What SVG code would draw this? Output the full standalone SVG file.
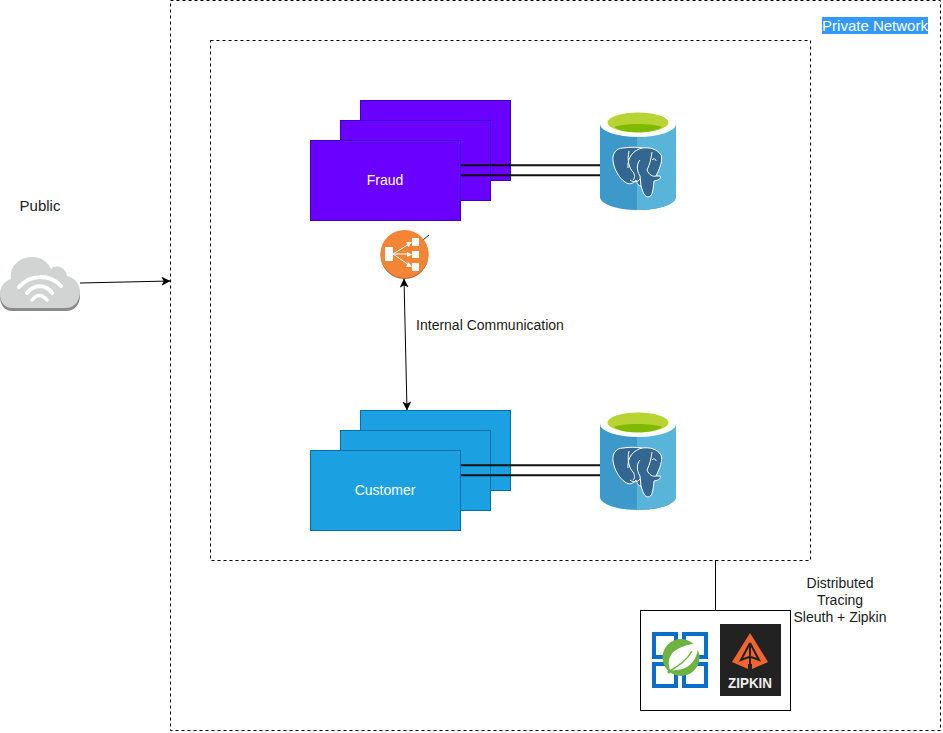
<svg xmlns="http://www.w3.org/2000/svg" width="943" height="733" viewBox="0 0 943 733">
<style>
text{font-family:"Liberation Sans",Arial,sans-serif;font-size:14px;fill:#1a1a1a;text-anchor:middle}
.w{fill:#fff}
.dash{fill:none;stroke:#000;stroke-dasharray:3 3}
.fr{fill:#6a00ff;stroke:#3700cc}
.cu{fill:#1ba1e2;stroke:#006eaf}
.ln{fill:none;stroke:#000;stroke-width:1}
.db{fill:none;stroke:#111;stroke-width:2}
.wifi{fill:none;stroke:#fff;stroke-width:4;stroke-linecap:round}
</style>
<defs>
<marker id="a" viewBox="0 0 10 10" refX="9.500" refY="5" markerWidth="9" markerHeight="9" markerUnits="userSpaceOnUse" orient="auto-start-reverse"><path d="M0 0L10 5L0 10L2.500 5Z" fill="#000"/></marker>
<g id="pg">
<path d="M600 124V197C600 204 617 210 638 210C659 210 676 204 676 197V124Z" fill="#3d99c9"/>
<path d="M637 124V210C659 210 676 204 676 197V124Z" fill="#59b4d9"/>
<ellipse cx="638" cy="124" rx="38" ry="13" fill="#fff"/>
<ellipse cx="638" cy="122.500" rx="30.500" ry="10" fill="#b8d432"/>
<path d="M614 127C622 123 654 123 662 127C654 134 622 134 614 127Z" fill="#7fba00"/>
<path d="M623 148C616 148 612 154 613 161C614 169 619 178 625 182C629 185 633 184 636 180C637 184 639 186 641 186C643 193 645 197 648 197C652 197 653 192 654 181C660 180 661 178 660 176L656 176C660 168 663 160 661 155C657 149 650 147 642 148C636 147 630 147 623 148Z" fill="#336791" stroke="#fff" stroke-width="1"/>
<path d="M629 151C627 160 629 168 633 172C635 175 635 178 633 180M630 180C634 183 638 182 640 179M642 148C634 150 627 157 628 168M652 152C651 159 650 164 647 170C649 175 653 177 656 176M640 160C637 163 636 170 640 176L641 186M652 160C654 158 656 159 656 161" fill="none" stroke="#fff" stroke-width="1"/>
</g>
</defs>
<g id="private-network"><rect class="dash" x="170.500" y="0.500" width="770" height="730"/>
<rect x="822" y="17" width="106" height="17" fill="#3399ff"/><text class="w" x="875" y="31" style="font-size:15px">Private Network</text></g>
<g id="inner-boundary"><rect class="dash" x="210.500" y="40.500" width="600" height="520"/></g>
<g id="connectors">
<path class="ln" d="M80 283L170 281" marker-end="url(#a)"/>
<path class="ln" d="M404 279L407 410" marker-start="url(#a)" marker-end="url(#a)"/>
<path class="ln" d="M715.500 560V610"/>
</g>
<g id="fraud">
<rect class="fr" x="360.500" y="100.500" width="150" height="80"/>
<rect class="fr" x="340.500" y="120.500" width="150" height="80"/>
<rect class="fr" x="310.500" y="140.500" width="150" height="80"/>
<text class="w" x="385" y="185">Fraud</text>
</g>
<g id="customer">
<rect class="cu" x="360.500" y="410.500" width="150" height="80"/>
<rect class="cu" x="340.500" y="430.500" width="150" height="80"/>
<rect class="cu" x="310.500" y="450.500" width="150" height="80"/>
<text class="w" x="385" y="495">Customer</text>
</g>
<g id="db-links">
<path class="db" d="M461 165.300H600M461 175.300H600M461 465.300H600M461 475.300H600"/>
</g>
<g id="fraud-db"><use href="#pg"/></g>
<g id="customer-db"><use href="#pg" y="300"/></g>
<g id="load-balancer">
<path d="M423 240L429 235" stroke="#222" stroke-width="1" fill="none"/>
<circle cx="404.500" cy="255" r="24" fill="#b0622a"/>
<circle cx="404.500" cy="254" r="24" fill="#f58536"/>
<path d="M385 247H393V261H385ZM412 238H419V246H412ZM412 251H419V258H412ZM412 263H419V271H412Z" fill="#fff"/>
<path d="M393 254L409 244M393 254H409M393 254L409 265" stroke="#fff" stroke-width="1" fill="none"/>
<path d="M412 242L406 242L408.500 247ZM412 254.500L407 252V257ZM412 267L406 267L408.500 262Z" fill="#fff"/>
</g>
<g id="public">
<text x="40" y="210.500" style="font-size:15px">Public</text>
<path d="M12 311C4 311 0 304 0 297C0 289 5 284 11 282L60 270L68 279C75 281 80 288 80 296C80 305 74 311 66 311Z" fill="#8a8a8a"/>
<path d="M12 308C4 308 0 301 0 294C0 286 5 281 11 279C9 266 20 257 32 257C42 257 48 262 51 269C56 264 66 267 67 276C75 278 80 284 80 292C80 301 74 308 66 308Z" fill="#d2d3d3"/>
<path class="wifi" d="M19 287C30 274 50 274 61 286"/>
<path class="wifi" d="M27 293C34 284 46 284 52 293"/>
<path class="wifi" style="stroke-width:3.500" d="M32 300C37 294 42 294 47 300"/>
</g>
<g id="internal-label"><text x="490" y="330">Internal Communication</text></g>
<g id="tracing-label"><text x="840" y="588">Distributed</text><text x="840" y="605">Tracing</text><text x="840" y="622">Sleuth + Zipkin</text></g>
<g id="tracing">
<rect x="640.500" y="610.500" width="150" height="100" fill="#fff" stroke="#000"/>
<g fill="#fff" stroke="#0a6fc9" stroke-width="4">
<rect x="654" y="634" width="22" height="23"/><rect x="684" y="634" width="22" height="23"/><rect x="654" y="664" width="22" height="22"/><rect x="684" y="664" width="22" height="22"/>
</g>
<circle cx="681" cy="657.500" r="18.500" fill="#6cb33f"/>
<path d="M670 670C665 655 675 646 698 643C699 658 690 672 670 670Z" fill="#fff"/>
<path d="M668 672C676 667 686 662 692 651" fill="none" stroke="#6cb33f" stroke-width="1.500"/>
<circle cx="669" cy="672" r="1.500" fill="#6cb33f"/>
<rect x="720" y="624" width="61" height="72" fill="#222"/>
<path d="M750 633L768 662L752 669V664L748 664V669L732 662Z" fill="#f26430"/>
<path d="M750 643L741 660L749 657M750 643L759 660L751 657M750 645V670" fill="none" stroke="#222" stroke-width="2"/>
<text x="750" y="688" textLength="44" lengthAdjust="spacingAndGlyphs" style="fill:#eee;font-weight:bold;font-size:15px">ZIPKIN</text>
</g>
</svg>
